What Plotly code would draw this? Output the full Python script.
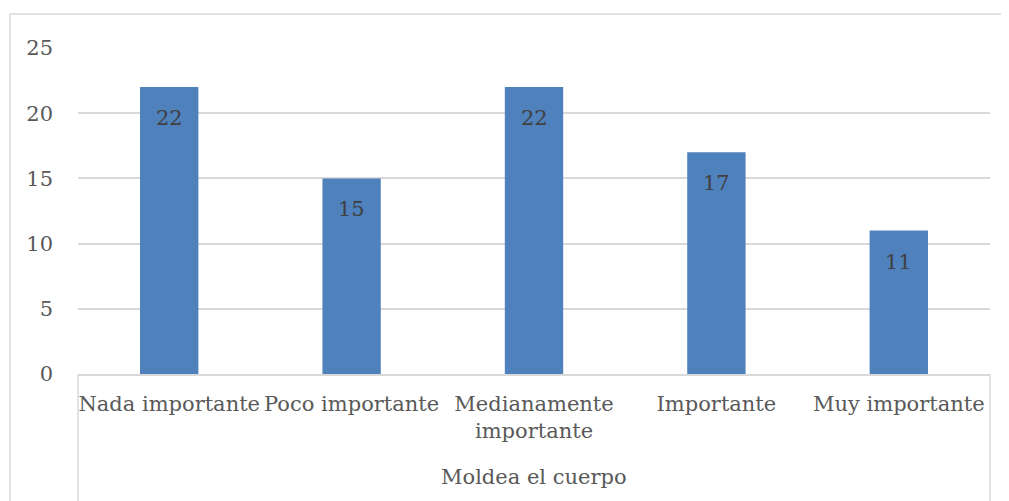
import plotly.graph_objects as go

categories = ["Nada importante", "Poco importante", "Medianamente<br>importante", "Importante", "Muy importante"]
values = [22, 15, 22, 17, 11]
group_label = "Moldea el cuerpo"
y_ticks = [0, 5, 10, 15, 20, 25]

FONT = "DejaVu Serif"
FS = 21
OFF = 8  # page body margin
W, H = 1009 - OFF, 501 - OFF
# plot-area edges in reference pixels, converted to figure pixels
L, R, T, B = 78 - OFF, 990 - OFF, 48 - OFF, 374 - OFF
pw, ph = R - L, B - T

def px(x):
    return (x - OFF - L) / pw

def py(y):
    return (B - (y - OFF)) / ph

fig = go.Figure(go.Bar(
    x=categories, y=values,
    marker=dict(color="#4F81BD", line=dict(width=0)),
    width=0.32, hoverinfo="skip",
))

annotations = [
    dict(x=c, y=v, xref="x", yref="y", text=str(v), showarrow=False,
         yanchor="top", yshift=-17, font=dict(family=FONT, size=FS, color="#404040"))
    for c, v in zip(categories, values)
]
annotations.append(dict(text=group_label, xref="paper", yref="paper", x=0.5, y=py(477),
                        showarrow=False, yanchor="middle",
                        font=dict(family=FONT, size=FS, color="#595959")))

line = dict(color="#D9D9D9", width=1.5)
shapes = [
    dict(type="line", xref="paper", yref="paper", x0=px(10), x1=px(1009), y0=py(14), y1=py(14), line=line),
    dict(type="line", xref="paper", yref="paper", x0=px(10), x1=px(10), y0=py(14), y1=py(501), line=line),
    dict(type="line", xref="paper", yref="paper", x0=0, x1=0, y0=0, y1=py(501), line=line),
    dict(type="line", xref="paper", yref="paper", x0=1, x1=1, y0=0, y1=py(501), line=line),
]

fig.update_layout(
    width=W, height=H,
    margin=dict(l=L, r=W - R, t=T, b=H - B),
    paper_bgcolor="white", plot_bgcolor="white",
    showlegend=False,
    font=dict(family=FONT, size=FS, color="#595959"),
    xaxis=dict(showgrid=False, ticks="", tickfont=dict(family=FONT, size=FS, color="#595959"),
               showline=True, linecolor="#D9D9D9", linewidth=1.5, tickangle=0,
               ticklabelstandoff=10),
    yaxis=dict(range=[0, 25], tickvals=y_ticks, showgrid=True, gridcolor="#D9D9D9", gridwidth=1.5,
               zeroline=False, showline=False, ticks="", ticklabelstandoff=24,
               tickfont=dict(family=FONT, size=FS, color="#595959")),
    shapes=shapes,
    annotations=annotations,
)

fig.write_html("out.html")
